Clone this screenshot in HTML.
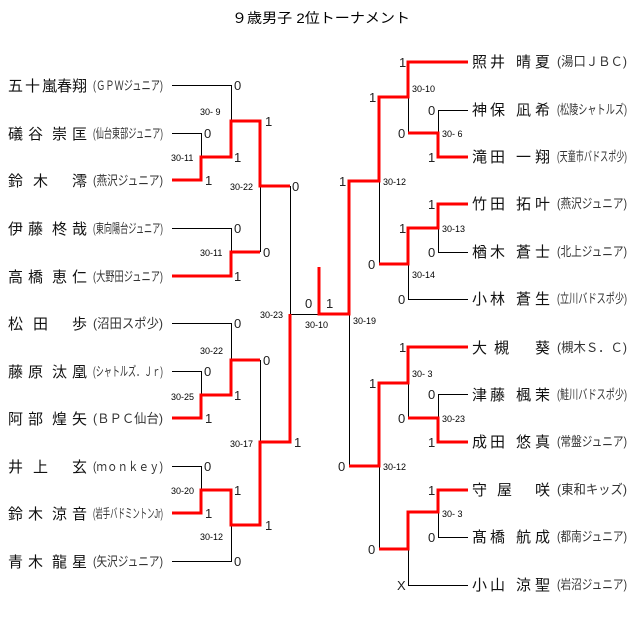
<!DOCTYPE html>
<html><head><meta charset="utf-8"><style>
html,body{margin:0;padding:0;background:#fff;}
svg{display:block;}
text{font-family:"Liberation Sans","Noto Sans CJK JP",sans-serif;}
.n{font-size:15px;fill:#111;}
.c{font-size:13px;fill:#333;}
.s{font-size:13px;fill:#222;}
.m{font-size:9px;fill:#000;white-space:pre;}
.b{stroke:#000;stroke-width:1;fill:none;}
.r{stroke:#f00;stroke-width:3;fill:none;}
</style></head><body>
<svg width="640" height="637" viewBox="0 0 640 637" xmlns="http://www.w3.org/2000/svg">
<text x="232" y="23" font-size="14" textLength="178" lengthAdjust="spacingAndGlyphs" fill="#000">９歳男子 2位トーナメント</text>

<g class="b">
<path d="M172 85.5H231.5V121"/>
<path d="M172 133.5H201.5V157"/>
<path d="M172 228.5H231.5V252"/>
<path d="M260.5 186V252"/>
<path d="M290.5 186V314.5H319"/>
<path d="M172 323.5H231.5V360"/>
<path d="M172 371.5H201.5V395"/>
<path d="M260.5 360V442"/>
<path d="M172 466.5H201.5V490"/>
<path d="M172 561.5H231.5V525"/>
<path d="M408.5 97V133"/>
<path d="M468 110.5H438.5V133"/>
<path d="M379.5 181V264"/>
<path d="M438.5 228V252.5H468"/>
<path d="M408.5 264V299.5H468"/>
<path d="M349.5 314V466"/>
<path d="M408.5 383V418"/>
<path d="M468 394.5H438.5V418"/>
<path d="M379.5 466V549"/>
<path d="M438.5 512V537.5H468"/>
<path d="M408.5 549V585.5H468"/>
</g>
<g class="r">
<path d="M172 180H201V157H231V121H260V186H290"/>
<path d="M172 276H231V252H260"/>
<path d="M172 418H201V395H231V360H260"/>
<path d="M172 513H201V490H231V525H260V442H290V314"/>
<path d="M319 267V314H349V181H379V97H408V62H468"/>
<path d="M408 133H438V157H468"/>
<path d="M379 264H408V228H438V204H468"/>
<path d="M349 466H379V383H408V347H468"/>
<path d="M408 418H438V442H468"/>
<path d="M379 549H408V512H438V490H468"/>
</g>

<g class="n">
<text x="8 25 42 57 72" y="91">五十嵐春翔</text>
<text x="8 28 52 72" y="139">礒谷崇匡</text>
<text x="8 33 72" y="186">鈴木澪</text>
<text x="8 28 52 72" y="234">伊藤柊哉</text>
<text x="8 28 52 72" y="282">高橋恵仁</text>
<text x="8 33 72" y="329">松田歩</text>
<text x="8 28 52 72" y="377">藤原汰凰</text>
<text x="8 28 52 72" y="424">阿部煌矢</text>
<text x="8 33 72" y="472">井上玄</text>
<text x="8 28 52 72" y="519">鈴木涼音</text>
<text x="8 28 52 72" y="567">青木龍星</text>
</g>
<g class="c">
<text x="93" y="90" textLength="70" lengthAdjust="spacingAndGlyphs">(ＧＰＷジュニア)</text>
<text x="93" y="138" textLength="70" lengthAdjust="spacingAndGlyphs">(仙台東部ジュニア)</text>
<text x="93" y="185" textLength="70" lengthAdjust="spacingAndGlyphs">(燕沢ジュニア)</text>
<text x="93" y="233" textLength="70" lengthAdjust="spacingAndGlyphs">(東向陽台ジュニア)</text>
<text x="93" y="281" textLength="70" lengthAdjust="spacingAndGlyphs">(大野田ジュニア)</text>
<text x="93" y="328" textLength="70" lengthAdjust="spacingAndGlyphs">(沼田スポ少)</text>
<text x="93" y="376" textLength="70" lengthAdjust="spacingAndGlyphs">(シャトルズ．Ｊｒ)</text>
<text x="93" y="423" textLength="70" lengthAdjust="spacingAndGlyphs">(ＢＰＣ仙台)</text>
<text x="93" y="471" textLength="70" lengthAdjust="spacingAndGlyphs">(ｍｏｎｋｅｙ)</text>
<text x="93" y="518" textLength="70" lengthAdjust="spacingAndGlyphs">(岩手バドミントンJr)</text>
<text x="93" y="566" textLength="70" lengthAdjust="spacingAndGlyphs">(矢沢ジュニア)</text>
</g>

<g class="n">
<text x="472 490 516 535" y="67">照井晴夏</text>
<text x="472 490 516 535" y="115">神保凪希</text>
<text x="472 490 516 535" y="162">滝田一翔</text>
<text x="472 490 516 535" y="209">竹田拓叶</text>
<text x="472 490 516 535" y="257">楢木蒼士</text>
<text x="472 490 516 535" y="304">小林蒼生</text>
<text x="472 494 535" y="353">大槻葵</text>
<text x="472 490 516 535" y="400">津藤楓茉</text>
<text x="472 490 516 535" y="447">成田悠真</text>
<text x="472 497 535" y="495">守屋咲</text>
<text x="472 490 516 535" y="542">髙橋航成</text>
<text x="472 490 516 535" y="590">小山涼聖</text>
</g>
<g class="c">
<text x="557" y="66" textLength="70" lengthAdjust="spacingAndGlyphs">(湯口ＪＢＣ)</text>
<text x="557" y="114" textLength="70" lengthAdjust="spacingAndGlyphs">(松陵シャトルズ)</text>
<text x="557" y="161" textLength="70" lengthAdjust="spacingAndGlyphs">(天童市バドスポ少)</text>
<text x="557" y="208" textLength="70" lengthAdjust="spacingAndGlyphs">(燕沢ジュニア)</text>
<text x="557" y="256" textLength="70" lengthAdjust="spacingAndGlyphs">(北上ジュニア)</text>
<text x="557" y="303" textLength="70" lengthAdjust="spacingAndGlyphs">(立川バドスポ少)</text>
<text x="557" y="352" textLength="70" lengthAdjust="spacingAndGlyphs">(槻木Ｓ．Ｃ)</text>
<text x="557" y="399" textLength="70" lengthAdjust="spacingAndGlyphs">(鮭川バドスポ少)</text>
<text x="557" y="446" textLength="70" lengthAdjust="spacingAndGlyphs">(常盤ジュニア)</text>
<text x="557" y="494" textLength="70" lengthAdjust="spacingAndGlyphs">(東和キッズ)</text>
<text x="557" y="541" textLength="70" lengthAdjust="spacingAndGlyphs">(都南ジュニア)</text>
<text x="557" y="589" textLength="70" lengthAdjust="spacingAndGlyphs">(岩沼ジュニア)</text>
</g>

<g class="s">
<text x="234" y="90">0</text>
<text x="204" y="138">0</text>
<text x="205" y="185">1</text>
<text x="234" y="162">1</text>
<text x="265" y="126">1</text>
<text x="292" y="191">0</text>
<text x="234" y="233">0</text>
<text x="234" y="281">1</text>
<text x="263" y="257">0</text>
<text x="234" y="328">0</text>
<text x="204" y="376">0</text>
<text x="205" y="423">1</text>
<text x="234" y="400">1</text>
<text x="263" y="365">0</text>
<text x="294" y="447">1</text>
<text x="204" y="471">0</text>
<text x="205" y="518">1</text>
<text x="234" y="495">1</text>
<text x="265" y="530">1</text>
<text x="234" y="566">0</text>
<text x="305" y="308">0</text>
<text x="326" y="308">1</text>
<text x="399" y="67">1</text>
<text x="428" y="115">0</text>
<text x="428" y="162">1</text>
<text x="398" y="138">0</text>
<text x="369" y="102">1</text>
<text x="339" y="186">1</text>
<text x="368" y="269">0</text>
<text x="399" y="233">1</text>
<text x="428" y="209">1</text>
<text x="428" y="257">0</text>
<text x="398" y="304">0</text>
<text x="338" y="471">0</text>
<text x="369" y="388">1</text>
<text x="399" y="352">1</text>
<text x="398" y="423">0</text>
<text x="428" y="399">0</text>
<text x="428" y="447">1</text>
<text x="368" y="554">0</text>
<text x="428" y="495">1</text>
<text x="428" y="542">0</text>
<text x="397" y="590">X</text>
</g>

<g class="m">
<text x="200" y="115">30- 9</text>
<text x="171" y="161">30-11</text>
<text x="230" y="190">30-22</text>
<text x="200" y="256">30-11</text>
<text x="260" y="318">30-23</text>
<text x="305" y="328">30-10</text>
<text x="353" y="324">30-19</text>
<text x="200" y="354">30-22</text>
<text x="171" y="400">30-25</text>
<text x="230" y="447">30-17</text>
<text x="171" y="494">30-20</text>
<text x="200" y="540">30-12</text>
<text x="412" y="92">30-10</text>
<text x="442" y="137">30- 6</text>
<text x="383" y="185">30-12</text>
<text x="442" y="232">30-13</text>
<text x="412" y="278">30-14</text>
<text x="412" y="377">30- 3</text>
<text x="442" y="422">30-23</text>
<text x="383" y="470">30-12</text>
<text x="442" y="517">30- 3</text>
</g>
</svg>
</body></html>
